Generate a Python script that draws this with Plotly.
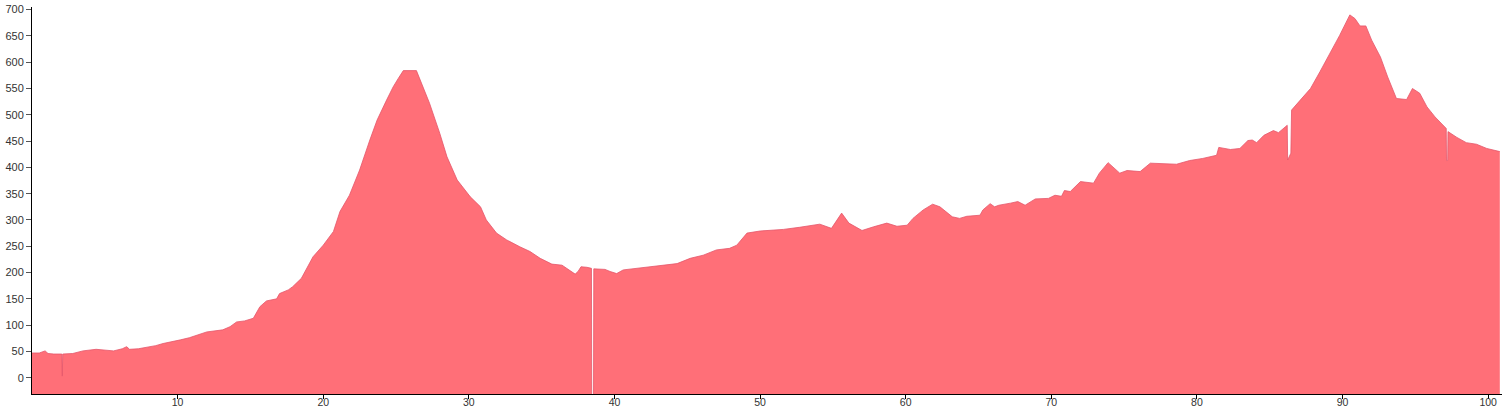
import plotly.graph_objects as go

distance_km = [
    0.0, 0.5, 0.9, 1.1, 1.5, 2.05, 2.08, 2.11, 2.8, 3.5, 4.4, 5.0, 5.6, 6.2, 6.5, 6.7,
    7.3, 7.9, 8.5, 9.0, 9.6, 10.2, 10.8, 11.3, 12.0, 13.1, 13.6, 14.05, 14.6, 15.2,
    15.65, 16.1, 16.8, 17.0, 17.6, 17.9, 18.5, 19.3, 20.0, 20.7, 21.15, 21.8, 22.5,
    23.2, 23.7, 24.35, 24.8, 25.15, 25.5, 26.4, 26.75, 27.3, 28.0, 28.5, 29.2, 30.1,
    30.8, 31.2, 31.9, 32.6, 33.5, 34.2, 34.9, 35.7, 36.4, 36.8, 37.3, 37.5, 37.7,
    38.1, 38.42, 38.45, 38.55, 38.58, 39.35, 39.7, 40.15, 40.6, 41.5, 42.4, 43.35,
    44.3, 45.2, 46.1, 47.0, 47.9, 48.4, 49.1, 50.0, 51.6, 52.7, 54.1, 54.9, 55.6,
    56.1, 57.0, 57.8, 58.7, 59.4, 60.1, 60.5, 61.2, 61.85, 62.35, 63.2, 63.7, 64.2,
    65.1, 65.3, 65.8, 66.1, 66.4, 67.2, 67.7, 68.2, 68.9, 69.8, 70.25, 70.7, 70.9,
    71.3, 72.0, 72.9, 73.3, 73.9, 74.7, 75.2, 76.1, 76.8, 78.6, 79.5, 80.4, 81.35,
    81.5, 82.3, 82.95, 83.5, 83.8, 84.1, 84.6, 85.25, 85.6, 86.2, 86.23, 86.45, 86.5,
    87.1, 87.8, 88.45, 89.1, 89.8, 90.5, 90.85, 91.2, 91.6, 92.0, 92.6, 93.1, 93.7,
    94.4, 94.8, 95.3, 95.8, 96.35, 96.9, 97.12, 97.14, 97.22, 97.24, 97.85, 98.5,
    99.2, 99.9, 100.8,
]

elevation_m = [
    47, 47, 51, 46, 45, 45, 3, 45, 46, 51, 54, 53, 51, 55, 59, 54,
    55, 58, 61, 65, 68, 72, 76, 81, 87, 91, 97, 106, 108, 113,
    135, 146, 150, 160, 167, 173, 189, 230, 252, 278, 316, 347, 395,
    452, 490, 528, 553, 569, 584, 584, 560, 522, 465, 420, 376, 344,
    325, 300, 275, 262, 249, 240, 227, 216, 214, 206, 197, 202, 211,
    210, 208, -200, -200, 207, 206, 202, 198, 205, 208, 211, 213,
    217, 227, 233, 243, 246, 252, 275, 279, 282, 286, 292, 284, 313,
    294, 280, 287, 294, 288, 290, 303, 319, 330, 325, 306, 303, 307,
    309, 319, 331, 325, 328, 332, 335, 328, 340, 341, 347, 345, 356,
    354, 373, 370, 389, 409, 389, 394, 392, 408, 406, 413, 417, 423,
    438, 434, 436, 451, 452, 447, 461, 470, 466, 480, 414, 427, 509,
    528, 550, 582, 614, 651, 690, 683, 669, 669, 642, 610, 572, 531,
    529, 550, 541, 515, 496, 480, 474, 413, 413, 468, 457, 447,
    444, 436, 430,
]

y_ticks = [0, 50, 100, 150, 200, 250, 300, 350, 400, 450, 500, 550, 600, 650, 700]
x_ticks = [10, 20, 30, 40, 50, 60, 70, 80, 90, 100]

Y_MIN, Y_MAX = -31, 705
X_MIN, X_MAX = 0, 100.95

fig = go.Figure()
# baseline at bottom of the plot so the area fills down to the axis
fig.add_trace(go.Scatter(
    x=[distance_km[0], distance_km[-1]], y=[Y_MIN, Y_MIN],
    mode="lines", line=dict(width=0, color="rgba(0,0,0,0)"),
    hoverinfo="skip", showlegend=False,
))
fig.add_trace(go.Scatter(
    x=distance_km, y=elevation_m, mode="lines",
    line=dict(color="#e4566a", width=0.8),
    fill="tonexty", fillcolor="#ff6f78",
    showlegend=False,
))

axis_font = dict(family="Liberation Sans, Arial, sans-serif", size=11, color="#333")
fig.update_layout(
    width=1510, height=408,
    margin=dict(l=32, r=8, t=7, b=14, autoexpand=False),
    paper_bgcolor="white", plot_bgcolor="white",
    xaxis=dict(
        range=[X_MIN, X_MAX], tickvals=x_ticks, ticktext=[str(v) for v in x_ticks],
        showgrid=False, zeroline=False, showline=True, linecolor="black", linewidth=1,
        ticks="outside", ticklen=4, tickcolor="black",
        tickfont=dict(family="Liberation Sans, Arial, sans-serif", size=10.5, color="#333"),
        ticklabelstandoff=-6, automargin=False,
    ),
    yaxis=dict(
        range=[Y_MIN, Y_MAX], tickvals=y_ticks, ticktext=[str(v) for v in y_ticks],
        showgrid=False, zeroline=False, showline=True, linecolor="black", linewidth=1,
        ticks="outside", ticklen=5, tickcolor="#555", tickfont=axis_font,
        automargin=False,
    ),
)

fig.write_html(
    "out.html",
    config={"displayModeBar": False},
    post_script="document.body.style.margin='0';document.body.style.overflow='hidden';",
)
